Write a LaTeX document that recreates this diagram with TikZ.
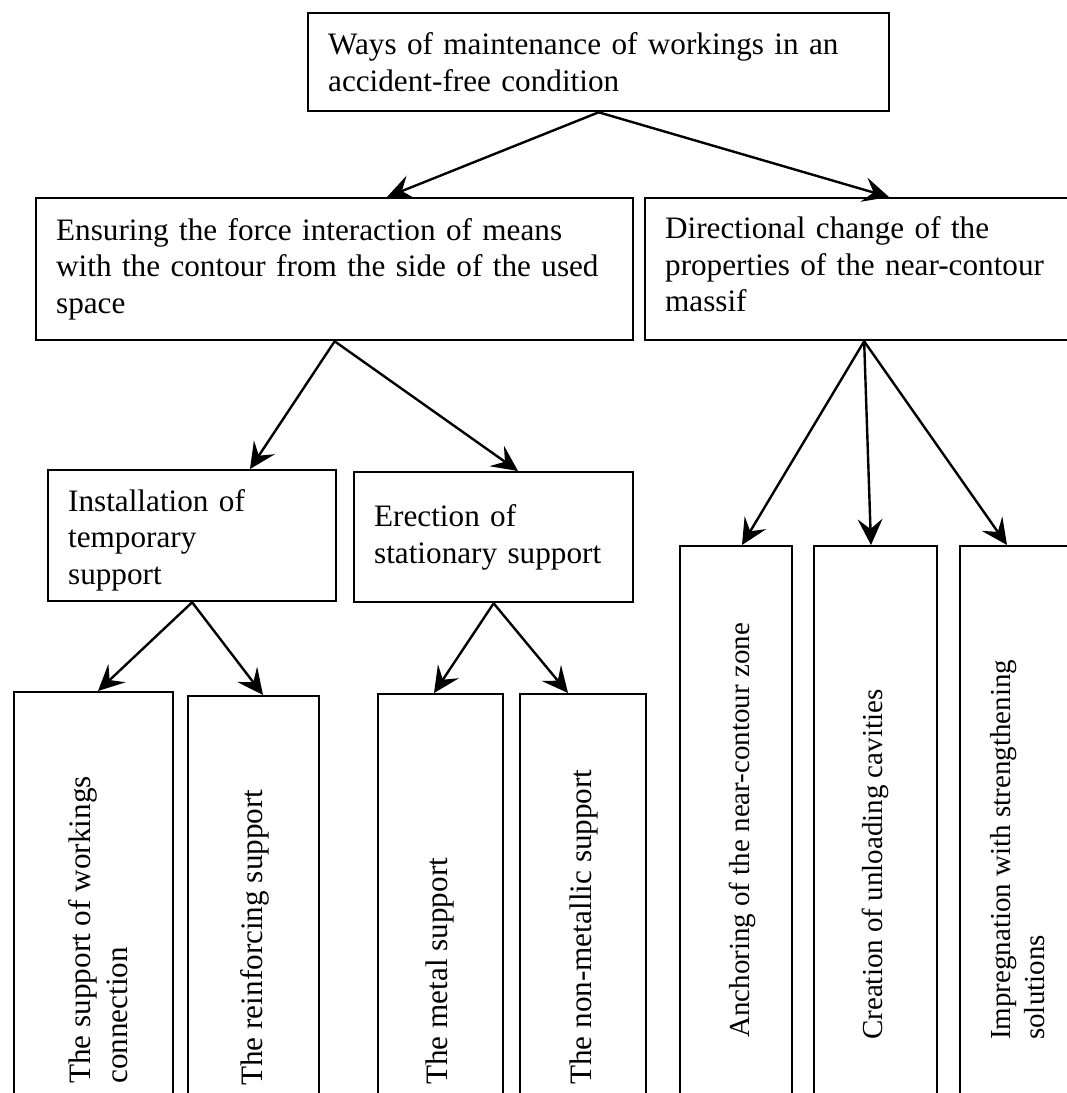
\documentclass[tikz,border=0pt]{standalone}
\usepackage{fontspec}
\setmainfont{Liberation Serif}
\usetikzlibrary{arrows.meta}
\begin{document}
\begin{tikzpicture}[x=1pt,y=-1pt,
  bigfont/.style={font=\fontsize{31.2}{36.8}\selectfont},
  smallfont/.style={font=\fontsize{29}{34}\selectfont},
  box/.style={draw, line width=2.3pt, rectangle, inner xsep=20pt, inner ysep=0pt,
    align=left, anchor=north west, bigfont},
  tall/.style={draw, line width=2.2pt, rectangle, inner sep=0pt, anchor=north west},
  vtext/.style={rotate=90, anchor=west, inner sep=0pt, align=left},
  arr/.style={line width=2.4pt, -{Stealth[length=26pt,width=25pt,inset=10pt]}}]
\path[use as bounding box, clip] (0,0) rectangle (1067,1093);
\fill[white] (0,0) rectangle (1067,1093);

% level 0
\node[box, minimum width=581pt, minimum height=98pt, text width=541pt] (top) at (307,12)
  {Ways of maintenance of workings in an\\accident-free condition};
% level 1
\node[box, minimum width=597pt, minimum height=142pt, text width=557pt] (ens) at (35,197)
  {Ensuring the force interaction of means\\with the contour from the side of the used\\space};
\node[box, minimum width=438pt, minimum height=142pt, text width=398pt] (dir) at (644,197)
  {Directional change of the\\properties of the near-contour\\massif\rule[-10pt]{0pt}{10pt}};
% level 2
\node[box, minimum width=288pt, minimum height=131pt, text width=248pt] (inst) at (47,469)
  {\rule{0pt}{31pt}Installation of\\temporary\\support};
\node[box, minimum width=279pt, minimum height=130pt, text width=239pt] (erec) at (353,471)
  {Erection of\\stationary support};
% level 3 (tall boxes, running past the lower edge)
\node[tall, minimum width=159pt, minimum height=419pt] (b1) at (13,691) {};
\node[tall, minimum width=131pt, minimum height=415pt] (b2) at (187,695) {};
\node[tall, minimum width=125pt, minimum height=417pt] (b3) at (377,693) {};
\node[tall, minimum width=126pt, minimum height=417pt] (b4) at (519,693) {};
\node[tall, minimum width=112pt, minimum height=565pt] (b5) at (679,545) {};
\node[tall, minimum width=123pt, minimum height=565pt] (b6) at (813,545) {};
\node[tall, minimum width=130pt, minimum height=565pt] (b7) at (959,545) {};

% rotated texts
\node[vtext, bigfont] (b1t) at (98,1084) {The support of workings\\connection};
\node[vtext, bigfont] (b2t) at (255,1086) {The reinforcing support};
\node[vtext, bigfont] (b3t) at (440,1085) {The metal support};
\node[vtext, bigfont] (b4t) at (584,1085) {The non-metallic support};
\node[vtext, smallfont] (b5t) at (742,1038) {Anchoring of the near-contour zone};
\node[vtext, smallfont] (b6t) at (875,1040) {Creation of unloading cavities};
\node[vtext, smallfont] (b7t) at (1018,1040) {Impregnation with strengthening\\solutions};

% connectors
\draw[arr] (top.south) -- ([xshift=352pt]ens.north west);
\draw[arr] (top.south) -- ([xshift=245pt]dir.north west);
\draw[arr] (ens.south) -- ([xshift=203pt]inst.north west);
\draw[arr] (ens.south) -- ([xshift=165pt]erec.north west);
\draw[arr] (inst.south) -- ([xshift=85pt]b1.north west);
\draw[arr] (inst.south) -- ([xshift=76pt]b2.north west);
\draw[arr] (erec.south) -- ([xshift=57pt]b3.north west);
\draw[arr] (erec.south) -- ([xshift=49pt]b4.north west);
\draw[arr] (dir.south) -- ([xshift=63pt]b5.north west);
\draw[arr] (dir.south) -- ([xshift=58pt]b6.north west);
\draw[arr] (dir.south) -- ([xshift=48pt]b7.north west);
\end{tikzpicture}
\end{document}
